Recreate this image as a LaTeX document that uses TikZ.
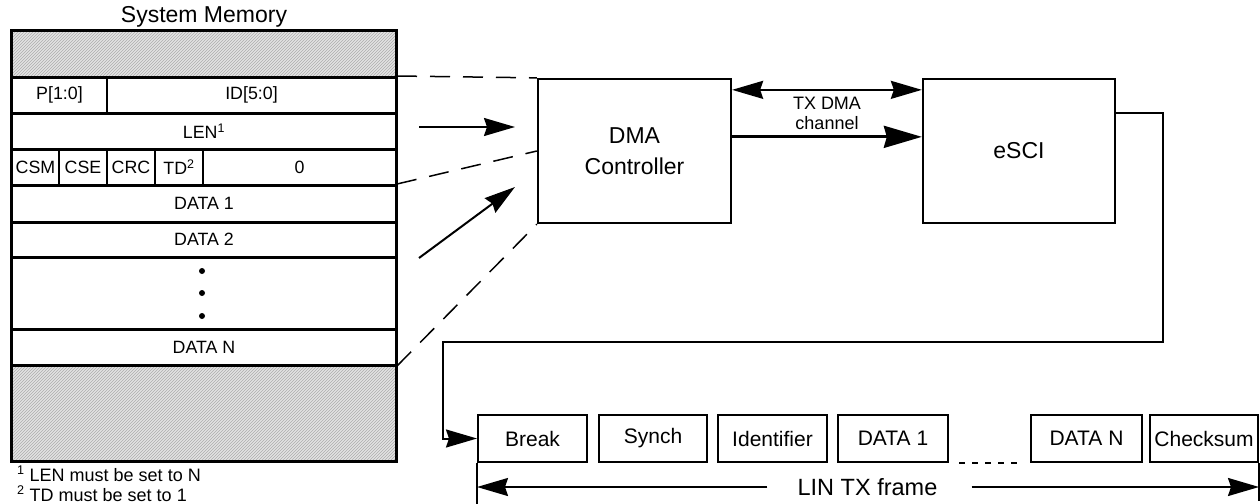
\documentclass[tikz,border=0pt]{standalone}
\usepackage{fontspec}
\setmainfont{Liberation Sans}
\usetikzlibrary{arrows.meta,patterns}
\begin{document}
\begin{tikzpicture}[x=1pt,y=-1pt,
  memfont/.style={font=\fontsize{17.8}{20}\selectfont},
  cell/.style 2 args={draw,line width=2pt,inner sep=0pt,minimum width=#1,minimum height=#2,memfont},
  hatch/.style 2 args={inner sep=0pt,minimum width=#1,minimum height=#2,
     preaction={fill=black!11},pattern=north east lines,pattern color=black!32},
  bigbox/.style={draw,line width=2.3pt,inner sep=0pt,minimum width=193pt,minimum height=144pt,
     align=center,font=\fontsize{23}{31}\selectfont},
  fbox/.style={draw,line width=2pt,inner sep=0pt,minimum width=109pt,minimum height=47pt,
     font=\fontsize{21}{24}\selectfont},
  tip/.tip={Stealth[length=31pt,width=18pt,inset=3pt]},
  arr/.style={line width=2pt,-tip},
  dsh/.style={line width=1.5pt,dash pattern=on 20pt off 13pt}
]
\useasboundingbox (0,0) rectangle (1260,503);

% title
\node[anchor=base,font=\fontsize{23}{26}\selectfont,inner sep=0pt] (title) at (204,23) {System Memory};

% memory
\node[hatch={384pt}{46pt}] (htop) at (204,54) {};
\node[cell={95pt}{36pt}] (pp) at (59.5,95) {P[1:0]};
\node[cell={289pt}{36pt}] (id) at (251.5,95) {ID[5:0]};
\node[cell={384pt}{36pt}] (len) at (204,131) {LEN\textsuperscript{1}};
\node[cell={47pt}{36pt}] (csm) at (35.5,167) {CSM};
\node[cell={48pt}{36pt}] (cse) at (83,167) {CSE};
\node[cell={48pt}{36pt}] (crc) at (131,167) {CRC};
\node[cell={48pt}{36pt}] (td) at (179,167) {TD\textsuperscript{2}};
\node[cell={193pt}{36pt}] (zero) at (299.5,167) {0};
\node[cell={384pt}{37pt}] (d1) at (204,203.5) {DATA 1};
\node[cell={384pt}{35pt}] (d2) at (204,239.5) {DATA 2};
\node[cell={384pt}{72pt}] (dots) at (204,293) {};
\node[cell={384pt}{36pt}] (dn) at (204,347) {DATA N};
\node[hatch={384pt}{96pt}] (hbot) at (204,413) {};
\foreach \y in {77,113,149,185,222,257,329,365}
  \draw[line width=3pt] (10,\y) -- (397,\y);
\draw[line width=3pt] (htop.north west) rectangle (hbot.south east);
\foreach \y in {271,293,316} \fill (202,\y) circle (3pt);

% footnotes
\node[anchor=base west,inner sep=0pt,font=\fontsize{18}{20}\selectfont] (fn1) at (17,481) {\textsuperscript{1} LEN must be set to N};
\node[anchor=base west,inner sep=0pt,font=\fontsize{18}{20}\selectfont] (fn2) at (17,501) {\textsuperscript{2} TD must be set to 1};

% controller boxes
\node[bigbox] (dma) at (634.5,151) {DMA\\Controller};
\node[bigbox,minimum width=192pt] (esci) at (1019,151) {eSCI};

% memory to DMA connectors
\coordinate (a1s) at (419,127);
\coordinate (a1e) at (515,127);
\coordinate (a2s) at (419,258);
\coordinate (a2e) at (515,187);
\draw[dsh] (id.north east) -- (dma.north west);
\draw[arr] (a1s) -- (a1e);
\draw[dsh] (d1.north east) -- (dma.west);
\draw[arr] (a2s) -- (a2e);
\draw[dsh] (dn.south east) -- (dma.south west);

% DMA <-> eSCI
\draw[line width=2pt,tip-tip] ([yshift=-12pt]dma.north east) -- ([yshift=-12pt]esci.north west);
\draw[line width=3pt,-{Stealth[length=38pt,width=22pt,inset=3pt]}] ([yshift=-59pt]dma.north east) -- ([yshift=-59pt]esci.north west);
\node[align=center,font=\fontsize{18}{20}\selectfont,inner sep=0pt] (lbl) at (827,113) {TX DMA\\channel};

% LIN frame
\node[fbox] (brk) at (532.5,438.5) {Break};
\node[fbox,minimum width=108pt] (syn) at (653,438.5) {Synch};
\node[fbox] (idf) at (772.5,438.5) {Identifier};
\node[fbox,minimum width=110pt] (fd1) at (893,438.5) {DATA 1};
\node[fbox,minimum width=111pt] (fdn) at (1086.5,438.5) {DATA N};
\node[fbox,minimum width=108pt] (cks) at (1204,438.5) {Checksum};
\draw[line width=2.5pt,dash pattern=on 6pt off 7pt] ([xshift=10pt]fd1.south east) -- ([xshift=-11pt]fdn.south west);

% eSCI output
\draw[arr] ([yshift=-35pt]esci.north east) -| (1163,342) -- (443,342) |- (brk.west);

% frame span
\draw[line width=2pt] (brk.south west) -- ++(0,42);
\draw[line width=2pt] (cks.south east) -- ++(0,38);
\node[inner sep=0pt,font=\fontsize{23.5}{26}\selectfont] (lin) at (867.5,487) {LIN TX frame};
\draw[arr] ([xshift=-30pt]lin.west) -- (lin -| brk.west);
\draw[arr] ([xshift=34pt]lin.east) -- (lin -| cks.east);
\end{tikzpicture}
\end{document}
